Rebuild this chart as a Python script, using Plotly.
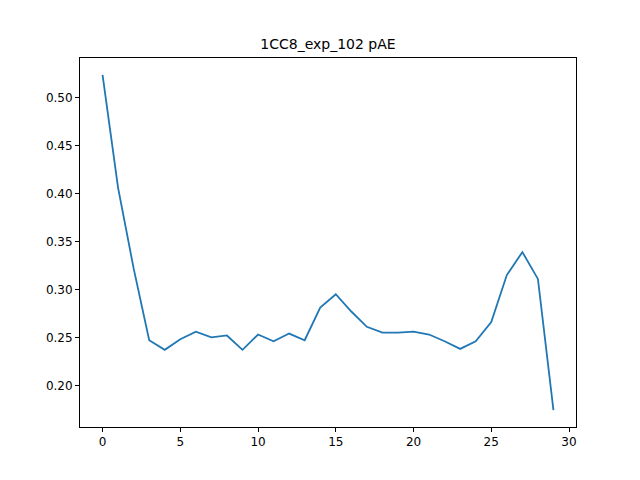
import plotly.graph_objects as go

# valeurs
positions = list(range(30))
pae = [0.524, 0.406, 0.322, 0.247, 0.237, 0.248, 0.256, 0.250, 0.252, 0.237,
       0.253, 0.246, 0.254, 0.247, 0.281, 0.295, 0.277, 0.261, 0.255, 0.255,
       0.256, 0.253, 0.246, 0.238, 0.246, 0.266, 0.315, 0.339, 0.311, 0.174]

fig = go.Figure(go.Scatter(x=positions, y=pae, mode="lines",
                           line=dict(color="#1f77b4", width=1.8)))

axis_style = dict(showgrid=False, zeroline=False, showline=True, mirror=True,
                  linecolor="black", linewidth=1, ticks="outside", ticklen=4,
                  tickcolor="black", tickfont=dict(size=12, color="black"),
                  automargin=False)

fig.update_layout(
    width=640, height=480,
    paper_bgcolor="white", plot_bgcolor="white",
    font=dict(family="DejaVu Sans", color="black"),
    title=dict(text="1CC8_exp_102 pAE", x=0.5, xanchor="center",
               y=0.925, yanchor="middle", font=dict(size=14)),
    margin=dict(l=72, r=72, t=50, b=61),
    showlegend=False,
    xaxis=dict(range=[-1.45, 30.45], tickvals=[0, 5, 10, 15, 20, 25, 30], **axis_style),
    yaxis=dict(range=[0.1565, 0.5415], tickformat=".2f",
               tickvals=[0.20, 0.25, 0.30, 0.35, 0.40, 0.45, 0.50], **axis_style),
)

fig.write_html("out.html")
